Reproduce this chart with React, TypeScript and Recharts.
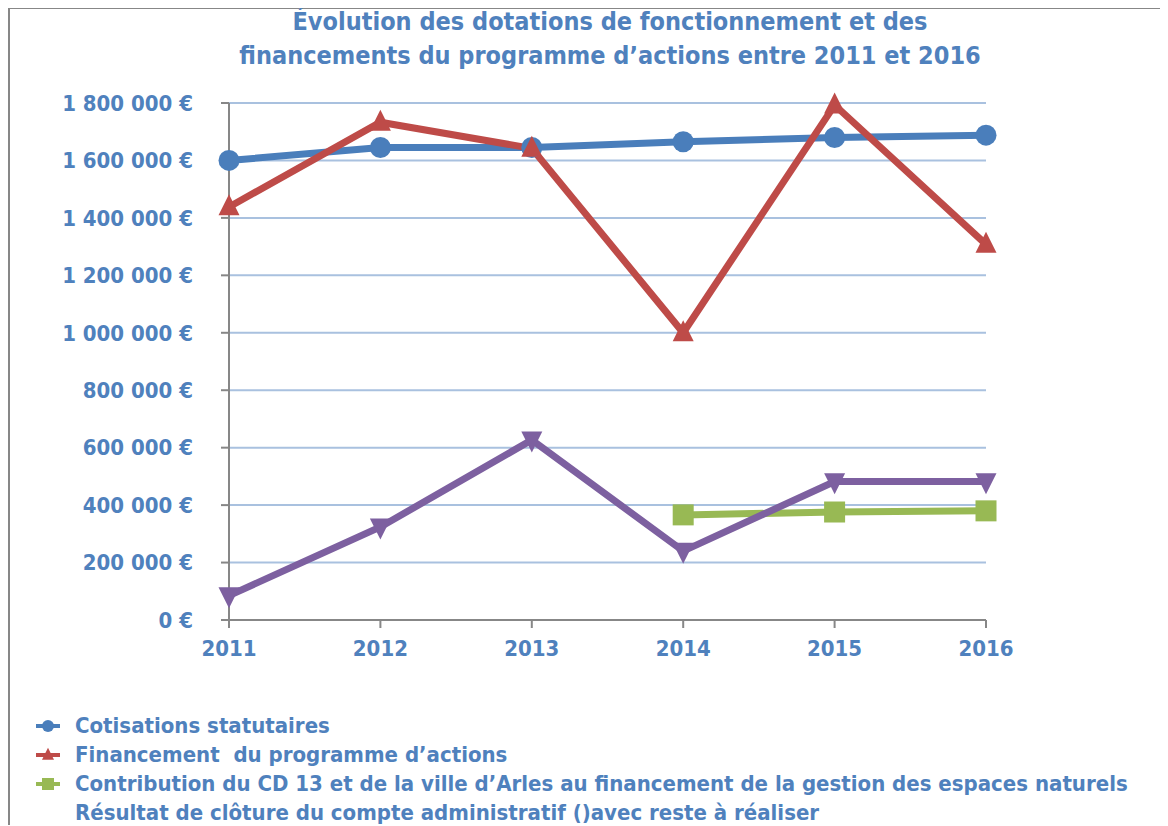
import { LineChart, Line, XAxis, YAxis, CartesianGrid } from 'recharts'

const YEARS = ['2011', '2012', '2013', '2014', '2015', '2016']
const COTISATIONS = [1600000, 1645000, 1645000, 1665000, 1680000, 1688000]
const FINANCEMENT = [1438000, 1733000, 1642000, 1000000, 1793000, 1308000]
const CONTRIBUTION = [null, null, null, 366000, 376000, 380000]
const RESULTAT = [85000, 324000, 627000, 240000, 482000, 482000]
const Y_TICKS = [0, 200000, 400000, 600000, 800000, 1000000, 1200000, 1400000, 1600000, 1800000]

const TITLE = ['Évolution des dotations de fonctionnement et des', 'financements du programme d’actions entre 2011 et 2016']

const SERIES = [
  { key: 'cot', name: 'Cotisations statutaires', color: '#4A7EBB', shape: 'circle' },
  { key: 'fin', name: 'Financement  du programme d’actions', color: '#BE4B48', shape: 'up' },
  { key: 'con', name: 'Contribution du CD 13 et de la ville d’Arles au financement de la gestion des espaces naturels', color: '#98B954', shape: 'square' },
  { key: 'res', name: 'Résultat de clôture du compte administratif ()avec reste à réaliser', color: '#7D60A0', shape: 'none' },
]

const data = YEARS.map((y, i) => ({
  year: y,
  cot: COTISATIONS[i],
  fin: FINANCEMENT[i],
  con: CONTRIBUTION[i],
  res: RESULTAT[i],
}))

const TEXT = '#4F81BD'
const FONT = '"DejaVu Sans Condensed", sans-serif'
const AXIS = '#878787'
const GRID = '#A9C1DF'

const fmt = (v: number) => `${String(v).replace(/\B(?=(\d{3})+(?!\d))/g, ' ')} €`

// marqueurs façon Excel
function Marker({ cx, cy, shape, color, s }: { cx: number; cy: number; shape: string; color: string; s: number }) {
  if (cx == null || cy == null) return null
  if (shape === 'circle') return <circle cx={cx} cy={cy} r={s / 2} fill={color} />
  if (shape === 'square') return <rect x={cx - s / 2} y={cy - s / 2} width={s} height={s} fill={color} />
  if (shape === 'up')
    return <polygon points={`${cx},${cy - s * 0.6} ${cx + s / 2},${cy + s * 0.4} ${cx - s / 2},${cy + s * 0.4}`} fill={color} />
  if (shape === 'down')
    return <polygon points={`${cx - s / 2},${cy - s * 0.4} ${cx + s / 2},${cy - s * 0.4} ${cx},${cy + s * 0.6}`} fill={color} />
  return null
}

const dot = (shape: string, color: string) => (p: any) => (
  <Marker key={`${shape}-${p.index}`} cx={p.cx} cy={p.cy} shape={shape} color={color} s={21} />
)

function LegendBox() {
  return (
    <div style={{ fontFamily: FONT, fontWeight: 700, fontSize: 22, color: TEXT, lineHeight: '29px' }}>
      {SERIES.map((s) => (
        <div key={s.key} style={{ display: 'flex', alignItems: 'center', whiteSpace: 'pre' }}>
          <svg width={29} height={20} style={{ marginRight: 12, flexShrink: 0 }}>
            {s.shape !== 'none' && <line x1={2} y1={10} x2={26} y2={10} stroke={s.color} strokeWidth={4} />}
            <Marker cx={14} cy={10} shape={s.shape} color={s.color} s={12} />
          </svg>
          <span>{s.name}</span>
        </div>
      ))}
    </div>
  )
}

export default function App() {
  return (
    <div style={{ position: 'relative', width: 1160, height: 818, borderTop: `2px solid ${AXIS}`, borderLeft: `2px solid ${AXIS}`, boxSizing: 'border-box', marginTop: -1 }}>
      <div
        style={{
          position: 'absolute', left: 0, width: 1200, top: -4, textAlign: 'center', fontFamily: FONT,
          fontWeight: 700, fontSize: 25, color: TEXT, lineHeight: '34px',
        }}
      >
        {TITLE.map((t) => <div key={t}>{t}</div>)}
      </div>
      <div style={{ position: 'absolute', left: -2, top: -1 }}>
        <LineChart width={1160} height={818} data={data} margin={{ top: 95, right: 182, left: 0, bottom: 166 }}>
          <CartesianGrid stroke={GRID} strokeWidth={2} vertical={false} />
          <XAxis
            dataKey="year"
            padding={{ left: 0, right: 0 }}
            height={40}
            stroke={AXIS}
            strokeWidth={2}
            tickSize={8}
            tickMargin={12}
            tick={{ fill: TEXT, fontSize: 22, fontWeight: 700, fontFamily: FONT }}
          />
          <YAxis
            width={221}
            domain={[0, 1800000]}
            ticks={Y_TICKS}
            tickFormatter={fmt}
            stroke={AXIS}
            strokeWidth={2}
            tickSize={8}
            tickMargin={28}
            tick={{ fill: TEXT, fontSize: 22, fontWeight: 700, fontFamily: FONT }}
          />
          <Line dataKey="cot" name={SERIES[0].name} stroke={SERIES[0].color} strokeWidth={7} dot={dot('circle', SERIES[0].color)} isAnimationActive={false} />
          <Line dataKey="fin" name={SERIES[1].name} stroke={SERIES[1].color} strokeWidth={7} dot={dot('up', SERIES[1].color)} isAnimationActive={false} />
          <Line dataKey="con" name={SERIES[2].name} stroke={SERIES[2].color} strokeWidth={7} dot={dot('square', SERIES[2].color)} isAnimationActive={false} />
          <Line dataKey="res" name={SERIES[3].name} stroke={SERIES[3].color} strokeWidth={7} dot={dot('down', SERIES[3].color)} isAnimationActive={false} />
        </LineChart>
      </div>
      <div style={{ position: 'absolute', left: 24, top: 702 }}>
        <LegendBox />
      </div>
    </div>
  )
}
